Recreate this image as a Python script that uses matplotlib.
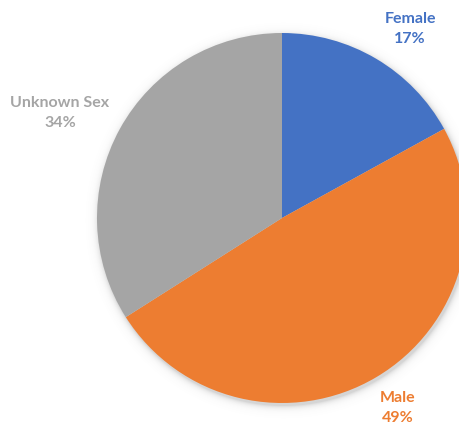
import numpy as np
import matplotlib
matplotlib.use("Agg")
import matplotlib.pyplot as plt

categories = ["Female", "Male", "Unknown Sex"]
shares = [17, 49, 34]
pct_labels = ["17%", "49%", "34%"]
colors = ["#4472C4", "#ED7D31", "#A5A5A5"]

W, H = 459, 425
fig = plt.figure(figsize=(W / 100, H / 100), dpi=100)
ax = fig.add_axes([0, 0, 1, 1])

cx, cy, r = 282, H - 218, 185

# soft drop shadow under the pie
yy, xx = np.mgrid[0:H, 0:W]
d = np.hypot(xx + 0.5 - (cx + 1.5), (H - yy - 0.5) - (cy - 2.5)) - r
alpha = np.exp(-np.clip(d, 0, None) / 3.0) * 0.3
shadow = np.zeros((H, W, 4))
shadow[..., :3] = 0.45
shadow[..., 3] = alpha
ax.imshow(shadow, extent=(0, W, 0, H), origin="upper", zorder=0, interpolation="bilinear")

ax.pie(shares, colors=colors, startangle=90, counterclock=False,
       center=(cx, cy), radius=r, frame=True,
       wedgeprops=dict(linewidth=0, zorder=1))
ax.set_xlim(0, W)
ax.set_ylim(0, H)
ax.set_aspect("equal")
ax.axis("off")

label_pos = [(410, H - 29), (398, H - 408), (60, H - 113)]
for name, pct, col, (lx, ly) in zip(categories, pct_labels, colors, label_pos):
    ax.text(lx, ly, f"{name}\n{pct}", color=col, fontsize=11.5, fontweight="bold",
            family="Lato", ha="center", va="center", linespacing=1.5)

fig.savefig("out.png", dpi=100)
